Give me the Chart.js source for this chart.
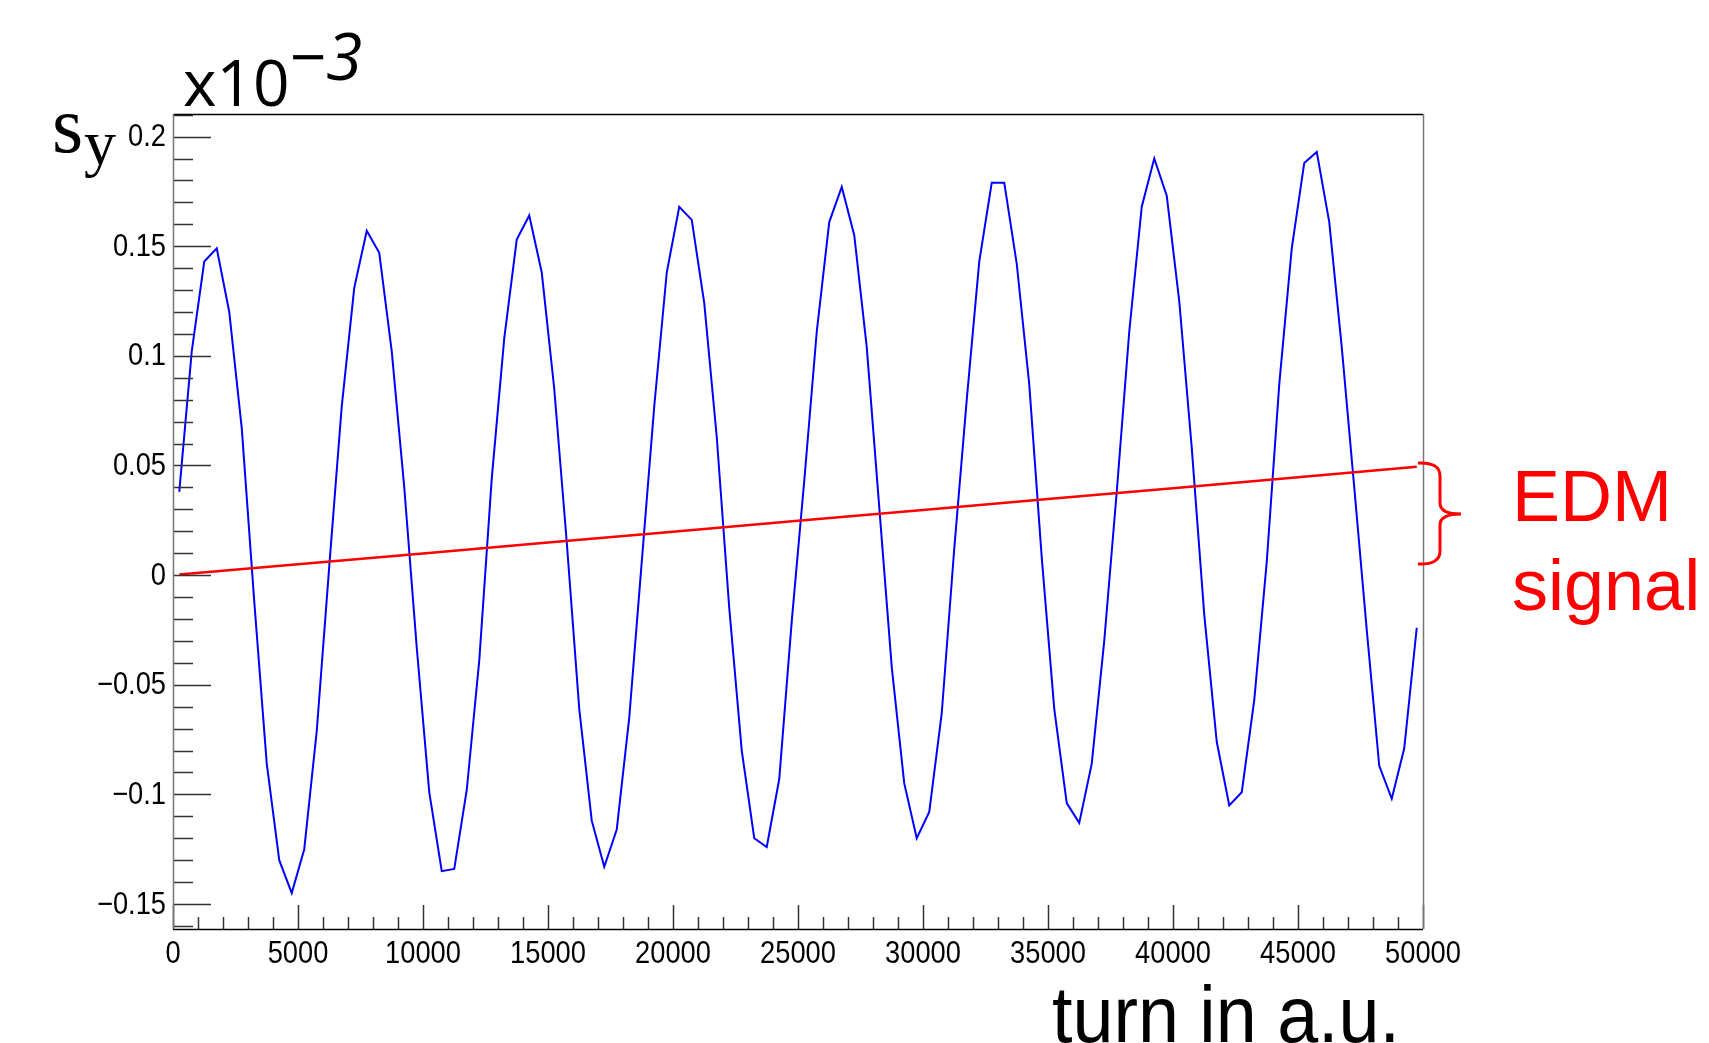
<!DOCTYPE html>
<html>
<head>
<meta charset="utf-8">
<script src="https://cdn.jsdelivr.net/npm/chart.js@4.4.1/dist/chart.umd.min.js"></script>
<style>
  html, body { margin: 0; padding: 0; background: #fff; }
  canvas { display: block; }
</style>
</head>
<body>
<canvas id="chart" width="1709" height="1043"></canvas>
<script>
// bin centres, one point every 500 turns
const turns = Array.from({ length: 100 }, (_, i) => 250 + 500 * i)

// s_y (x10^-3)
const sy = [
  0.038, 0.102, 0.143, 0.149, 0.120, 0.067, -0.012, -0.086, -0.130, -0.145,
  -0.125, -0.071, 0.004, 0.077, 0.131, 0.157, 0.147, 0.102, 0.040, -0.033,
  -0.099, -0.135, -0.134, -0.098, -0.039, 0.044, 0.108, 0.153, 0.164, 0.138,
  0.085, 0.015, -0.061, -0.112, -0.133, -0.116, -0.065, 0.006, 0.077, 0.138,
  0.168, 0.162, 0.124, 0.063, -0.015, -0.080, -0.120, -0.124, -0.093, -0.021,
  0.043, 0.111, 0.161, 0.177, 0.155, 0.104, 0.031, -0.042, -0.095, -0.120,
  -0.108, -0.063, 0.012, 0.080, 0.143, 0.179, 0.179, 0.142, 0.087, 0.008,
  -0.061, -0.104, -0.113, -0.086, -0.030, 0.038, 0.111, 0.168, 0.190, 0.173,
  0.125, 0.058, -0.018, -0.076, -0.105, -0.099, -0.057, 0.006, 0.087, 0.149,
  0.188, 0.193, 0.161, 0.104, 0.040, -0.025, -0.087, -0.102, -0.079, -0.024,
]

// EDM signal (red line)
const edmTurns = [250, 5000, 10000, 15000, 20000, 25000, 30000, 35000, 40000, 45000, 49750]
const edm = [0.0003, 0.0050, 0.0099, 0.0149, 0.0198, 0.0248, 0.0297, 0.0347, 0.0396, 0.0446, 0.0494]

const xTicks = [0, 5000, 10000, 15000, 20000, 25000, 30000, 35000, 40000, 45000, 50000]
const xTickLabels = ['0', '5000', '10000', '15000', '20000', '25000', '30000', '35000', '40000', '45000', '50000']
const yTicks = [-0.15, -0.1, -0.05, 0, 0.05, 0.1, 0.15, 0.2]
const yTickLabels = ['\u22120.15', '\u22120.1', '\u22120.05', '0', '0.05', '0.1', '0.15', '0.2']

// the original ROOT picture was squeezed horizontally
const squeeze = 0.88

function squeezedText(ctx, text, x, y, sx) {
  ctx.save()
  ctx.translate(x, y)
  ctx.scale(sx, 1)
  ctx.fillText(text, 0, 0)
  ctx.restore()
}

const decorations = {
  id: 'decorations',
  afterDraw(chart) {
    const { ctx, chartArea: a, scales: { x, y } } = chart
    ctx.save()

    // inward tick marks, ROOT style
    ctx.lineWidth = 1.5
    ctx.strokeStyle = '#333'
    for (let v = 0; v <= 50000; v += 1000) {
      const px = Math.round(x.getPixelForValue(v)) + 0.5
      const len = v % 5000 === 0 ? 24 : 12
      ctx.beginPath()
      ctx.moveTo(px, a.bottom)
      ctx.lineTo(px, a.bottom - len)
      ctx.stroke()
    }
    for (let i = -16; i <= 21; i++) {
      const py = Math.round(y.getPixelForValue(i / 100)) + 0.5
      const len = i % 5 === 0 ? 38 : 20
      ctx.beginPath()
      ctx.moveTo(a.left, py)
      ctx.lineTo(a.left + len, py)
      ctx.stroke()
    }

    // frame
    ctx.strokeStyle = '#000'
    ctx.beginPath()
    ctx.moveTo(a.left, a.top + 0.5)
    ctx.lineTo(a.right, a.top + 0.5)
    ctx.moveTo(a.left, a.bottom + 0.5)
    ctx.lineTo(a.right, a.bottom + 0.5)
    ctx.stroke()
    ctx.strokeStyle = '#777'
    ctx.beginPath()
    ctx.moveTo(a.left + 0.5, a.top)
    ctx.lineTo(a.left + 0.5, a.bottom)
    ctx.moveTo(a.right + 0.5, a.top)
    ctx.lineTo(a.right + 0.5, a.bottom)
    ctx.stroke()

    // tick labels at the scale positions
    ctx.fillStyle = '#000'
    ctx.font = '31px "Liberation Sans", Arial'
    ctx.textAlign = 'right'
    ctx.textBaseline = 'middle'
    y.ticks.forEach((t) => {
      const i = yTicks.findIndex((v) => Math.abs(v - t.value) < 1e-9)
      if (i >= 0) squeezedText(ctx, yTickLabels[i], a.left - 7, y.getPixelForValue(t.value) + 1, squeeze)
    })
    ctx.textAlign = 'center'
    ctx.textBaseline = 'alphabetic'
    x.ticks.forEach((t) => {
      const i = xTicks.indexOf(t.value)
      if (i >= 0) squeezedText(ctx, xTickLabels[i], x.getPixelForValue(t.value), a.bottom + 34, squeeze)
    })

    // x axis title
    ctx.textAlign = 'left'
    ctx.font = '80px "Liberation Sans", Arial'
    const title = 'turn in a.u.'
    const w = ctx.measureText(title).width
    squeezedText(ctx, title, 1052, 1042, 348 / w)

    // y axis title s_y
    ctx.font = '80px "Liberation Serif", serif'
    ctx.fillText('s', 52, 152)
    ctx.font = '64px "Liberation Serif", serif'
    ctx.fillText('y', 84, 164)

    // exponent x10^-3
    ctx.font = '64px "Open Sans", sans-serif'
    ctx.fillText('x10', 183, 106)
    ctx.fillText('\u2212', 290, 80)
    ctx.font = 'italic 66px "Open Sans", sans-serif'
    ctx.fillText('3', 326, 80)

    // EDM brace and label
    ctx.strokeStyle = '#ff0000'
    ctx.lineWidth = 3
    ctx.beginPath()
    ctx.moveTo(1418, 463)
    ctx.quadraticCurveTo(1440, 462, 1440, 476)
    ctx.lineTo(1440, 503)
    ctx.quadraticCurveTo(1440, 514, 1461, 514)
    ctx.moveTo(1461, 514)
    ctx.quadraticCurveTo(1440, 514, 1440, 525)
    ctx.lineTo(1440, 551)
    ctx.quadraticCurveTo(1440, 565, 1418, 564)
    ctx.stroke()

    ctx.fillStyle = '#ff0000'
    ctx.font = '72px "Liberation Sans", Arial'
    ctx.fillText('EDM', 1512, 521)
    ctx.fillText('signal', 1512, 610)

    ctx.restore()
  },
}

new Chart(document.getElementById('chart'), {
  type: 'line',
  data: {
    datasets: [
      {
        label: 'EDM',
        data: edmTurns.map((t, i) => ({ x: t, y: edm[i] })),
        borderColor: '#ff0000',
        borderWidth: 2.5,
        pointRadius: 0,
        tension: 0,
        order: 0,
      },
      {
        label: 's_y',
        data: turns.map((t, i) => ({ x: t, y: sy[i] })),
        borderColor: '#0000ff',
        borderWidth: 2,
        pointRadius: 0,
        tension: 0,
        order: 1,
      },
    ],
  },
  options: {
    responsive: false,
    animation: false,
    devicePixelRatio: 1,
    layout: { padding: { left: 53, right: 286, top: 114, bottom: 54 } },
    plugins: { legend: { display: false }, tooltip: { enabled: false } },
    scales: {
      x: {
        type: 'linear',
        min: 0,
        max: 50000,
        afterBuildTicks: (axis) => { axis.ticks = xTicks.map((v) => ({ value: v })) },
        afterFit: (axis) => { axis.height = 60 },
        grid: { display: false, drawTicks: false },
        border: { display: false },
        ticks: { display: false },
      },
      y: {
        type: 'linear',
        min: -0.1614,
        max: 0.2103,
        afterBuildTicks: (axis) => { axis.ticks = yTicks.map((v) => ({ value: v })) },
        afterFit: (axis) => { axis.width = 120 },
        grid: { display: false, drawTicks: false },
        border: { display: false },
        ticks: { display: false },
      },
    },
  },
  plugins: [decorations],
})
</script>
</body>
</html>
